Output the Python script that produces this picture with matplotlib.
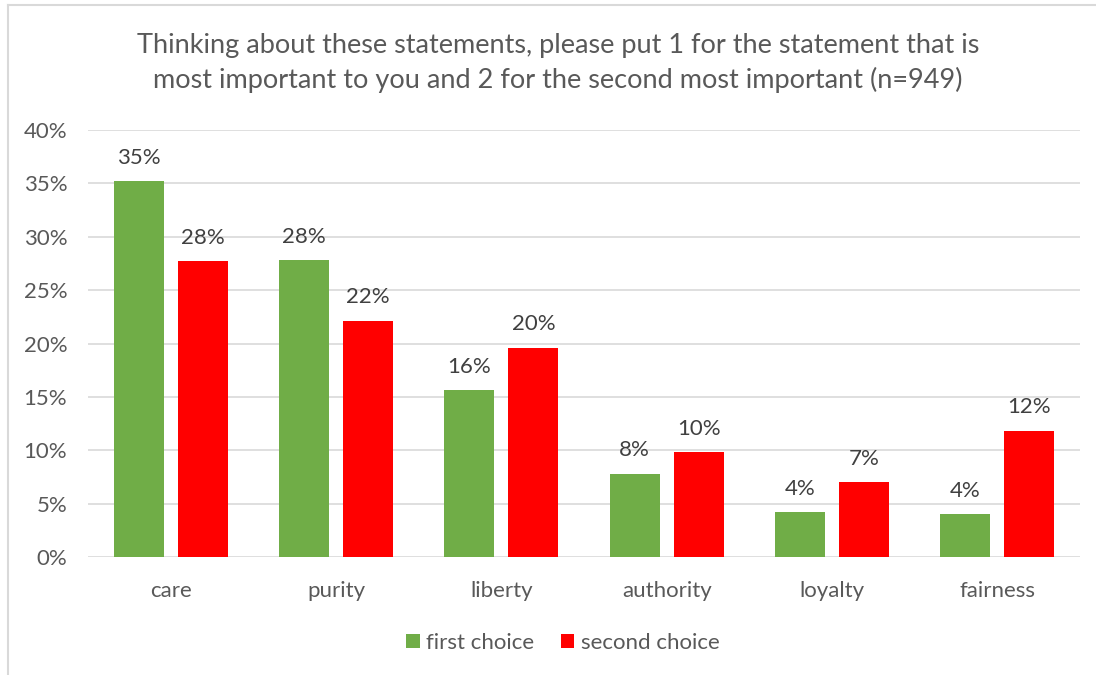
import matplotlib
matplotlib.use("Agg")
import matplotlib.pyplot as plt
from matplotlib.lines import Line2D
from matplotlib.patches import Patch
import numpy as np

categories = ["care", "purity", "liberty", "authority", "loyalty", "fairness"]
first_choice = [0.352, 0.278, 0.156, 0.078, 0.042, 0.040]
second_choice = [0.277, 0.221, 0.196, 0.098, 0.070, 0.118]
series_names = ["first choice", "second choice"]
y_ticks = [0.0, 0.05, 0.10, 0.15, 0.20, 0.25, 0.30, 0.35, 0.40]
title = ("Thinking about these statements, please put 1 for the statement that is\n"
         "most important to you and 2 for the second most important (n=949)")

GREEN = "#70AD47"
RED = "#FF0000"
GRID = "#D9D9D9"
TEXT = "#595959"
LABEL = "#404040"

plt.rcParams["font.family"] = ["Lato", "DejaVu Sans"]

W, H = 1096, 675
fig = plt.figure(figsize=(W / 100, H / 100), dpi=100)
fig.patch.set_facecolor("white")

# plot area in pixel terms
left, right, top, bottom = 88, 1080, 130, 557
ax = fig.add_axes([left / W, 1 - bottom / H, (right - left) / W, (bottom - top) / H])

x = np.arange(len(categories))
bw = 0.3025
off = 0.1936
b1 = ax.bar(x - off, first_choice, width=bw, color=GREEN, zorder=3)
b2 = ax.bar(x + off, second_choice, width=bw, color=RED, zorder=3)

for bars, vals in ((b1, first_choice), (b2, second_choice)):
    for rect, v in zip(bars, vals):
        ax.annotate(f"{v:.0%}", (rect.get_x() + rect.get_width() / 2, v),
                    xytext=(0, 17), textcoords="offset points",
                    ha="center", va="center", fontsize=16, color=LABEL)

ax.set_xlim(-0.5, len(categories) - 0.5)
ax.set_ylim(0, 0.40)
ax.set_yticks(y_ticks)
ax.set_yticklabels([f"{t:.0%}" for t in y_ticks])
ax.set_xticks(x)
ax.set_xticklabels(categories)
ax.tick_params(axis="both", length=0, labelsize=16, colors=TEXT)
ax.tick_params(axis="y", pad=15)
ax.tick_params(axis="x", pad=17)
ax.grid(axis="y", color=GRID, linewidth=1.2, zorder=0)
for s in ax.spines.values():
    s.set_visible(False)

fig.text(558 / W, 1 - 63 / H, title, ha="center", va="center",
         fontsize=19.5, color=TEXT, linespacing=1.38)

handles = [Patch(facecolor=GREEN), Patch(facecolor=RED)]
fig.legend(handles, series_names, loc="center", bbox_to_anchor=(563 / W, 1 - 643 / H),
           ncol=2, frameon=False, fontsize=16, labelcolor=TEXT,
           handlelength=0.6, handleheight=0.6, handletextpad=0.3, columnspacing=1.2)

# chart frame
fig.add_artist(Line2D([8 / W, 8 / W], [0, 1 - 5 / H], color=GRID, linewidth=1.5))
fig.add_artist(Line2D([8 / W, 1], [1 - 5 / H, 1 - 5 / H], color=GRID, linewidth=1.5))

fig.savefig("out.png", dpi=100, facecolor="white")
